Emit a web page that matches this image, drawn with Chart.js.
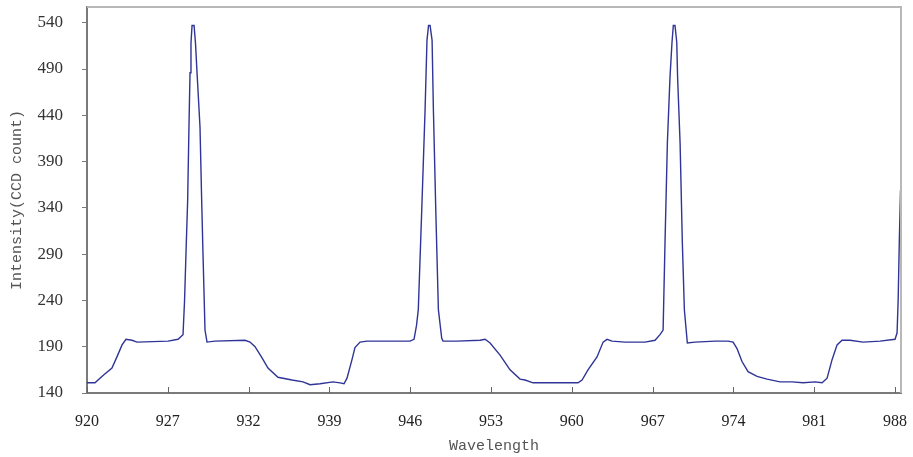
<!DOCTYPE html>
<html>
<head>
<meta charset="utf-8">
<script src="https://cdn.jsdelivr.net/npm/chart.js@4.4.1/dist/chart.umd.min.js"></script>
<style>
  html, body { margin: 0; padding: 0; background: #fff; }
</style>
</head>
<body>
<canvas id="spectrum" width="913" height="457"></canvas>
<script>
// wavelength positions (nm along the axis) and CCD counts
const wavelength = [
  920.0, 920.67, 921.35, 922.10, 922.52, 922.95, 923.28, 923.79, 924.21, 926.82,
  927.66, 928.08, 928.21, 928.33, 928.47, 928.58, 928.67, 928.75, 928.84, 929.01,
  929.13, 929.26, 929.51, 929.65, 929.76, 929.93, 930.10, 930.77, 933.30, 933.72,
  934.14, 934.73, 935.23, 936.07, 937.25, 938.18, 938.77, 939.61, 940.70, 941.29,
  941.63, 941.88, 942.30, 942.55, 942.98, 943.56, 947.18, 947.52, 947.73, 947.88,
  948.17, 948.45, 948.61, 948.74, 948.87, 949.04, 949.15, 949.35, 949.57, 949.85,
  949.96, 951.14, 953.08, 953.50, 953.92, 954.76, 955.60, 956.44, 956.86, 957.54,
  961.32, 961.66, 962.16, 962.92, 963.43, 963.76, 964.18, 965.28, 966.96, 967.80,
  968.22, 968.48, 968.64, 968.84, 969.06, 969.23, 969.34, 969.48, 969.63, 969.70,
  969.91, 970.10, 970.27, 970.52, 971.17, 972.85, 973.95, 974.37, 974.70, 975.12,
  975.63, 976.39, 977.23, 978.32, 979.33, 980.26, 981.27, 981.86, 982.28, 982.70,
  983.12, 983.54, 984.21, 985.31, 986.74, 988.00, 988.17, 988.26, 988.36, 988.46
];
const intensity = [
  151, 151, 159, 167, 179, 192, 198, 197, 195, 196,
  198, 203, 240, 291, 348, 427, 486, 518, 537, 537,
  518, 486, 427, 348, 291, 208, 195, 196, 197, 195,
  190, 178, 167, 157, 154, 152, 149, 150, 152, 151,
  150, 156, 176, 189, 195, 196, 196, 198, 213, 230,
  338, 446, 521, 537, 537, 521, 446, 338, 230, 199,
  196, 196, 197, 198, 194, 181, 165, 155, 154, 151,
  151, 154, 165, 179, 195, 198, 196, 195, 195, 197,
  203, 208, 302, 410, 481, 519, 537, 537, 519, 481,
  410, 302, 230, 194, 195, 196, 196, 195, 188, 174,
  163, 158, 155, 152, 152, 151, 152, 151, 156, 176,
  192, 197, 197, 195, 196, 198, 205, 240, 305, 359
];
const xTickLabels = ['920', '927', '932', '939', '946', '953', '960', '967', '974', '981', '988'];
const yTicks = [140, 190, 240, 290, 340, 390, 440, 490, 540];

const xMin = 920, xLast = 988;
const xStep = (xLast - xMin) / (xTickLabels.length - 1);

// top/right frame + inward tick marks on the x axis
const framePlugin = {
  id: 'frame',
  afterDraw(chart) {
    const { ctx, chartArea: a } = chart;
    const x = chart.scales.x;
    ctx.save();
    ctx.strokeStyle = '#b8b8b8';
    ctx.lineWidth = 2;
    ctx.beginPath();
    ctx.moveTo(a.left, a.top);
    ctx.lineTo(a.right, a.top);
    ctx.lineTo(a.right, a.bottom);
    ctx.stroke();

    ctx.strokeStyle = '#666';
    ctx.lineWidth = 1;
    ctx.beginPath();
    x.ticks.forEach((t, i) => {
      const px = Math.round(x.getPixelForTick(i)) + 0.5;
      ctx.moveTo(px, a.bottom);
      ctx.lineTo(px, a.bottom - 6);
    });
    ctx.stroke();
    ctx.restore();
  }
};

new Chart(document.getElementById('spectrum'), {
  type: 'line',
  data: {
    datasets: [{
      data: wavelength.map((w, i) => ({ x: w, y: intensity[i] })),
      borderColor: '#2f3496',
      borderWidth: 1.4,
      pointRadius: 0,
      tension: 0,
      fill: false
    }]
  },
  options: {
    responsive: false,
    animation: false,
    layout: { padding: { top: 7, right: 12, left: 0, bottom: 0 } },
    plugins: { legend: { display: false }, tooltip: { enabled: false } },
    scales: {
      x: {
        type: 'linear',
        min: xMin,
        max: 988.5,
        afterBuildTicks(scale) {
          scale.ticks = xTickLabels.map((_, i) => ({ value: xMin + i * xStep }));
        },
        afterFit(scale) {
          scale.height = 64;
          scale.paddingLeft = 0;
          scale.paddingRight = 0;
        },
        ticks: {
          autoSkip: false,
          maxRotation: 0,
          padding: 19,
          color: '#222',
          font: { family: 'Liberation Serif', size: 16 },
          callback: (v, i) => xTickLabels[i]
        },
        grid: { display: true, drawOnChartArea: false, drawTicks: false },
        border: { color: '#7a7a7a', width: 2 },
        title: {
          display: true,
          text: 'Wavelength',
          color: '#555',
          font: { family: 'Liberation Mono', size: 15 },
          padding: { top: 0, bottom: 2 }
        }
      },
      y: {
        min: 140,
        max: 557,
        afterBuildTicks(scale) {
          scale.ticks = yTicks.map(v => ({ value: v }));
        },
        afterFit(scale) {
          scale.width = 87;
          scale.paddingTop = 0;
          scale.paddingBottom = 0;
        },
        ticks: {
          padding: 19,
          color: '#333',
          font: { family: 'Liberation Serif', size: 17 }
        },
        grid: { display: true, drawOnChartArea: false, tickLength: 5, color: '#7a7a7a' },
        border: { color: '#7a7a7a', width: 2 },
        title: {
          display: true,
          text: 'Intensity(CCD count)',
          color: '#555',
          font: { family: 'Liberation Mono', size: 15 },
          padding: { top: 8, bottom: 0 }
        }
      }
    }
  },
  plugins: [framePlugin]
});
</script>
</body>
</html>
